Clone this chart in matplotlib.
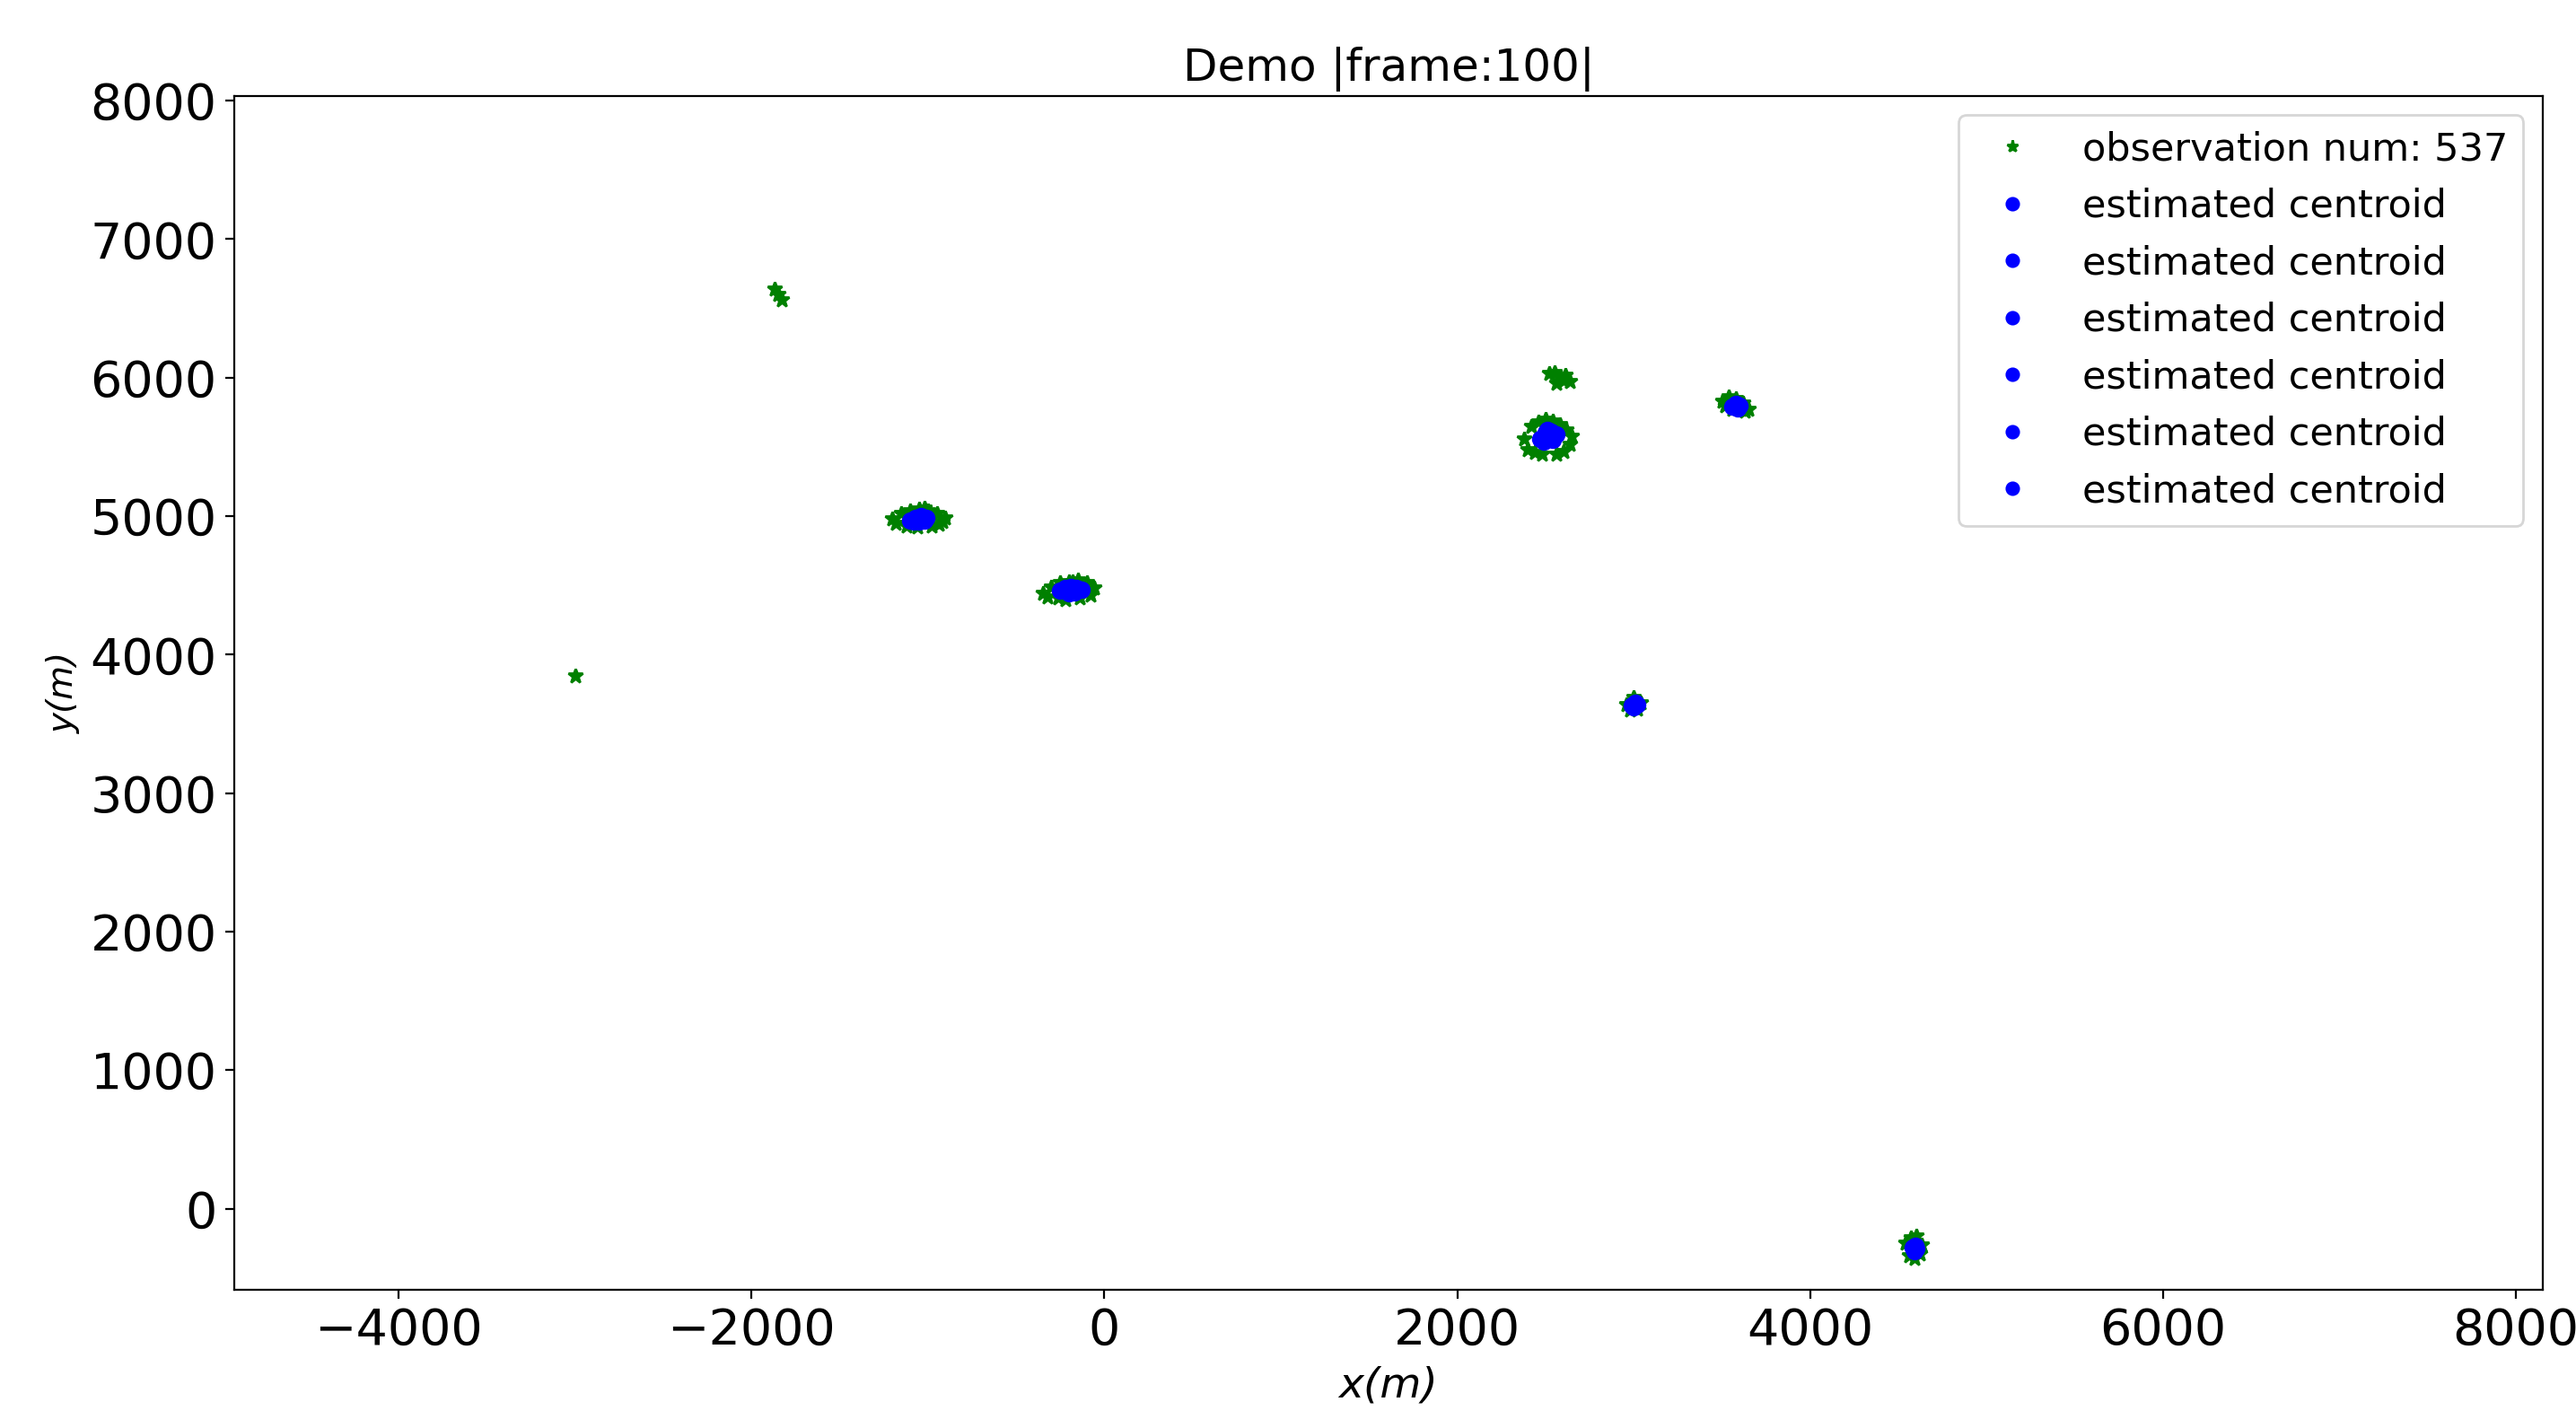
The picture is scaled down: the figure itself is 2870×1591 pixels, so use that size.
import matplotlib.pyplot as plt

obs_x = [-1870, -1830, -1850, -3000,
         -1200, -1150, -1100, -1050, -1000, -950, -900, -1180, -920, -1120, -980, -1060, -1020, -940,
         -350, -300, -250, -200, -150, -100, -60, -320, -80, -260, -140, -220, -180, -110,
         2380, 2420, 2460, 2500, 2540, 2580, 2620, 2650, 2400, 2640, 2440, 2600, 2480, 2560, 2520, 2500,
         2520, 2550, 2580, 2610, 2640, 2560, 2600,
         3500, 3540, 3580, 3620, 3650, 3520, 3630, 3560, 3600,
         2960, 3000, 3040, 2980, 3020, 3010,
         4540, 4570, 4600, 4630, 4560, 4620, 4590, 4600]
obs_y = [6640, 6560, 6600, 3850,
         4980, 5020, 5040, 5050, 5040, 5020, 4990, 4950, 4960, 4930, 4930, 4920, 5060, 4940,
         4440, 4490, 4520, 4530, 4540, 4520, 4480, 4420, 4430, 4410, 4410, 4400, 4530, 4500,
         5560, 5650, 5680, 5700, 5690, 5660, 5620, 5580, 5480, 5520, 5460, 5470, 5450, 5450, 5600, 5580,
         6030, 6040, 6000, 6020, 5970, 5960, 5980,
         5830, 5860, 5850, 5820, 5770, 5800, 5760, 5770, 5790,
         3640, 3690, 3650, 3600, 3610, 3660,
         -250, -210, -200, -260, -340, -330, -360, -300]

# estimated centroids, one series per target
est_x = [[-1100, -1070, -1040, -1010, -1050, -1080, -1020],
         [-250, -220, -190, -160, -130, -200, -170],
         [2470, 2500, 2530, 2560, 2490, 2540, 2520, 2510],
         [3560, 3580, 3600, 3590],
         [2990, 3010, 3020, 3000],
         [4580, 4600, 4590, 4595]]
est_y = [[4970, 4990, 5000, 4990, 4960, 4960, 4970],
         [4460, 4480, 4490, 4480, 4470, 4440, 4450],
         [5560, 5600, 5610, 5590, 5540, 5550, 5580, 5620],
         [5790, 5810, 5800, 5780],
         [3630, 3650, 3640, 3620],
         [-280, -290, -310, -270]]

obs_count = 537

fig = plt.figure(figsize=(14.35, 7.955), dpi=200)
ax = fig.add_axes([0.091, 0.097, 0.896, 0.836])
ax.plot(obs_x, obs_y, '*', color='green', markersize=6,
        label=f'observation num: {obs_count}')
for xs, ys in zip(est_x, est_y):
    ax.plot(xs, ys, 'o', color='blue', markersize=6, label='estimated centroid')

ax.set_xlim(-4930, 8150)
ax.set_ylim(-584, 8036)
ax.set_xlabel('x(m)', fontsize=17, style='italic')
ax.set_ylabel('y(m)', fontsize=14, style='italic')
ax.set_title('Demo |frame:100|', fontsize=18)
ax.tick_params(labelsize=20)
ax.legend(loc='upper right', fontsize=15.5, markerscale=0.8)
fig.savefig('out.png')
